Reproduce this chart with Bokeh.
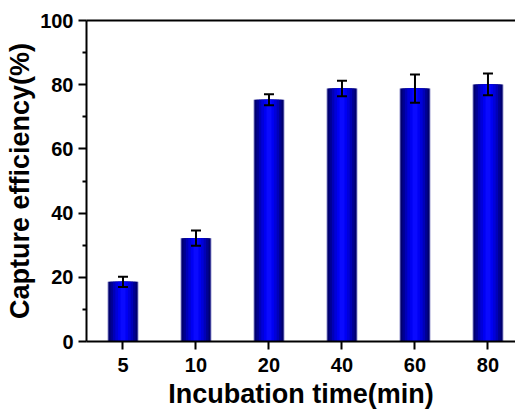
from bokeh.plotting import figure
from bokeh.models import ColumnDataSource, Range1d, FixedTicker, LinearAxis, Whisker
from bokeh.embed import file_html
from bokeh.resources import INLINE

times = ["5", "10", "20", "40", "60", "80"]
efficiency = [18.6, 32.2, 75.3, 78.8, 78.8, 80.1]
errors = [1.6, 2.4, 1.7, 2.4, 4.4, 3.4]
y_ticks = [0, 20, 40, 60, 80, 100]

xs = list(range(len(times)))
upper = [v + e for v, e in zip(efficiency, errors)]
lower = [v - e for v, e in zip(efficiency, errors)]
src = ColumnDataSource(dict(x=xs, top=efficiency, upper=upper, lower=lower))

p = figure(width=515, height=412, output_backend="svg", toolbar_location=None,
           x_range=Range1d(-0.5, 5.377), y_range=Range1d(0, 100),
           min_border_left=86, min_border_right=0, min_border_top=20, min_border_bottom=71)
p.grid.visible = False
p.outline_line_color = None
p.outline_line_alpha = 0
p.outline_line_width = 0
p.background_fill_color = "white"
p.border_fill_color = "white"

bar_w = 0.42
layers = [
    (1.00, "#6a6ab8"),
    (0.94, "#00006e"),
    (0.82, "#000092"),
    (0.66, "#0000b8"),
    (0.50, "#0000da"),
    (0.32, "#0000f4"),
    (0.16, "#0a0aff"),
]
for frac, col in layers:
    p.vbar(x="x", top="top", bottom=0, width=bar_w * frac, source=src,
           fill_color=col, line_color=None)

w = Whisker(base="x", upper="upper", lower="lower", source=src,
            line_color="black", line_width=2, level="overlay")
w.upper_head.size = 10
w.lower_head.size = 10
w.upper_head.line_width = 2
w.lower_head.line_width = 2
w.upper_head.line_color = "black"
w.lower_head.line_color = "black"
p.add_layout(w)

font = "Liberation Sans"

xa = p.xaxis[0]
xa.ticker = FixedTicker(ticks=xs)
xa.major_label_overrides = {i: t for i, t in enumerate(times)}
xa.axis_label = "Incubation time(min)"
ya = p.yaxis[0]
ya.ticker = FixedTicker(ticks=y_ticks, minor_ticks=[10, 30, 50, 70, 90])
ya.axis_label = "Capture efficiency(%)"

for ax in (xa, ya):
    ax.axis_line_width = 2
    ax.axis_line_color = "black"
    ax.major_tick_line_width = 2
    ax.minor_tick_line_width = 2
    ax.major_tick_in = 0
    ax.major_tick_out = 8
    ax.minor_tick_in = 0
    ax.minor_tick_out = 4
    ax.major_label_text_font = font
    ax.major_label_text_font_style = "bold"
    ax.major_label_text_font_size = "20px"
    ax.major_label_text_color = "black"
    ax.axis_label_text_font = font
    ax.axis_label_text_font_style = "bold"
    ax.axis_label_text_font_size = "27px"
    ax.axis_label_text_color = "black"
    ax.major_label_standoff = 5
    ax.axis_label_standoff = 2
xa.minor_tick_out = 0
xa.major_label_standoff = 8
xa.axis_label_standoff = 4

top_axis = LinearAxis(ticker=FixedTicker(ticks=[]), major_label_text_font_size="0px",
                      axis_line_width=2, axis_line_color="black",
                      major_tick_out=0, minor_tick_out=0, major_label_standoff=0)
p.add_layout(top_axis, "above")

open("out.html", "w").write(file_html(p, INLINE))
